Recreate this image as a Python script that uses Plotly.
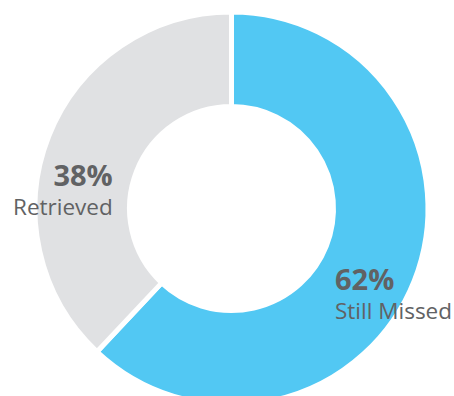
import plotly.graph_objects as go

# Data
labels = ["Still Missed", "Retrieved"]
values = [62, 38]
colors = ["#52C8F3", "#E0E1E3"]

W, H = 454, 417
cx, cy, R = 231.5, 208.5, 196.5

fig = go.Figure()
fig.add_trace(go.Pie(
    labels=labels,
    values=values,
    hole=0.519,
    sort=False,
    direction="clockwise",
    rotation=0,
    marker=dict(colors=colors, line=dict(color="white", width=5)),
    textinfo="none",
    hoverinfo="label+percent",
    showlegend=False,
    domain=dict(x=[(cx - R) / W, (cx + R) / W], y=[0, 1]),
))

total = sum(values)
pct = [f"{round(v / total * 100)}%" for v in values]

# label block anchor in pixels (x, middle y, x-anchor/alignment)
pos = {
    "Still Missed": (334, 292, "left"),
    "Retrieved": (114, 188, "right"),
}
txt_color = "#616264"
for lab, p in zip(labels, pct):
    px, py, al = pos[lab]
    fig.add_annotation(
        x=px / W, y=1 - py / H, xref="paper", yref="paper",
        text=f"<span style='font-size:29px'><b>{p}</b></span><br>{lab}",
        showarrow=False, align=al,
        xanchor=al, yanchor="middle", borderpad=0,
        font=dict(family="Open Sans", size=22.5, color=txt_color))

fig.update_layout(
    width=W, height=H,
    margin=dict(l=0, r=0, t=0, b=0),
    paper_bgcolor="white", plot_bgcolor="white",
)

fig.write_html("out.html", post_script="document.documentElement.style.overflow='hidden';document.body.style.overflow='hidden';")
